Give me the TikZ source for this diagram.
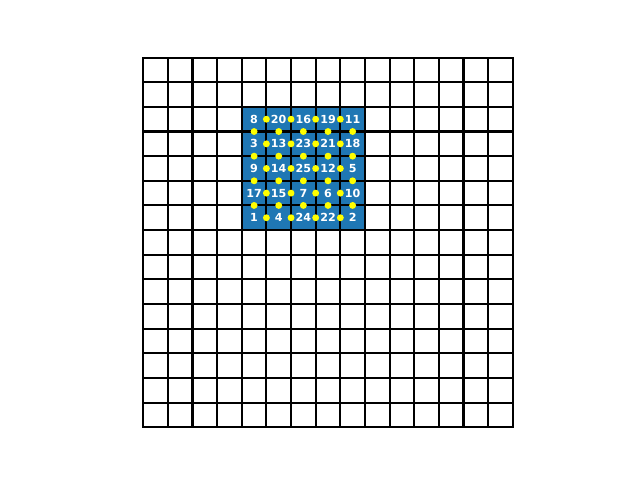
\documentclass[tikz,border=0pt]{standalone}
\usepackage{fontspec}
\setmainfont{DejaVu Sans}
\usepackage{xcolor}
\definecolor{cellblue}{HTML}{1F77B4}
\definecolor{jointyellow}{HTML}{FFFF00}
\usepackage{tikz}

\begin{document}
\begin{tikzpicture}[x=17.74pt, y=17.74pt,
  cellnum/.style={text=white, font=\fontsize{8}{9}\selectfont\bfseries, inner sep=0pt},
  joint/.style={fill=jointyellow},
  boardline/.style={line width=1.5pt, line cap=rect}]

  \useasboundingbox (-5.812, -2.143) rectangle (20.162, 17.338);

  % the filled 5x5 block
  \fill[cellblue] (4, 8) rectangle (9, 13);

  % the 15x15 board
  \foreach \i in {0, ..., 15} {
    \draw[boardline] (\i, 0) -- (\i, 15);
    \draw[boardline] (0, \i) -- (15, \i);
  }

  % joints between neighbouring cells
  \foreach \r in {0, ..., 4} {
    \foreach \x in {5, 6, 7, 8} {
      \fill[joint] (\x, 12.5-\r) circle (0.14);
    }
  }
  \foreach \y in {9, 10, 11, 12} {
    \foreach \c in {0, ..., 4} {
      \fill[joint] (4.5+\c, \y) circle (0.14);
    }
  }

  % cell labels
  \foreach \row [count=\r from 0] in {{8,20,16,19,11}, {3,13,23,21,18}, {9,14,25,12,5}, {17,15,7,6,10}, {1,4,24,22,2}} {
    \foreach \v [count=\c from 0] in \row {
      \node[cellnum] (n\v) at (4.5+\c, 12.5-\r) {\v};
    }
  }

\end{tikzpicture}
\end{document}
